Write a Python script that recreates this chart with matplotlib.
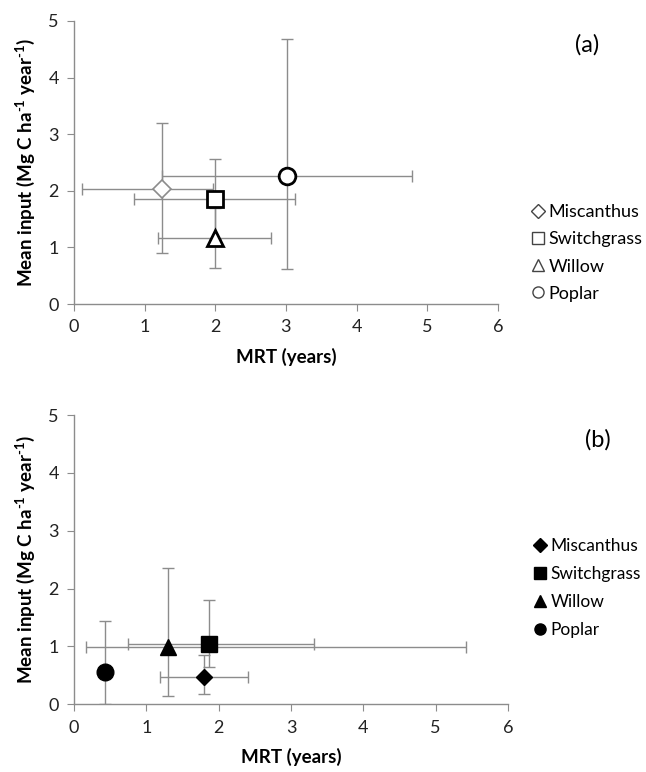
import matplotlib as mpl
mpl.use('Agg')
import matplotlib.pyplot as plt
import numpy as np

plt.rcParams['font.family'] = ['Lato', 'DejaVu Sans']
plt.rcParams['mathtext.fontset'] = 'custom'
plt.rcParams['mathtext.rm'] = 'Lato:bold'
plt.rcParams['mathtext.bf'] = 'Lato:bold'

crops = ['Miscanthus', 'Switchgrass', 'Willow', 'Poplar']

# panel (a)
a_mrt = [1.24, 1.99, 1.99, 3.02]
a_mrt_lo = [1.13, 1.14, 0.80, 1.78]
a_mrt_hi = [0.73, 1.14, 0.80, 1.76]
a_inp = [2.04, 1.86, 1.17, 2.27]
a_inp_lo = [1.14, 0.72, 0.53, 1.65]
a_inp_hi = [1.16, 0.71, 0.53, 2.42]

# panel (b)
b_mrt = [1.80, 1.86, 1.30, 0.43]
b_mrt_lo = [0.61, 1.11, 1.14, 0.0]
b_mrt_hi = [0.61, 1.46, 4.12, 0.0]
b_inp = [0.47, 1.05, 0.99, 0.56]
b_inp_lo = [0.29, 0.40, 0.85, 0.56]
b_inp_hi = [0.39, 0.75, 1.36, 0.88]

shapes = ['D', 's', '^', 'o']
a_sizes = [9, 11, 11, 12]
b_sizes = [8, 12, 12, 12]

GREY = '#8c8c8c'


def style_axes(ax, xmax):
    ax.set_xlim(0, xmax)
    ax.set_ylim(0, 5)
    ax.set_xticks(range(0, 7))
    ax.set_yticks(range(0, 6))
    for s in ['top', 'right']:
        ax.spines[s].set_visible(False)
    for s in ['left', 'bottom']:
        ax.spines[s].set_color(GREY)
        ax.spines[s].set_linewidth(1.0)
    ax.tick_params(direction='out', length=5, color=GREY, labelsize=13, pad=6, labelcolor='#222222')
    ax.set_xlabel('MRT (years)', fontsize=13.5, fontweight='bold', labelpad=9)
    ax.set_ylabel('Mean input (Mg C ha$^{\\text{-1}}$ year$^{\\text{-1}}$)',
                  fontsize=13.5, fontweight='bold', labelpad=8)


def panel(ax, mrt, mlo, mhi, inp, ilo, ihi, sizes, filled):
    for i in range(len(crops)):
        ax.errorbar(mrt[i], inp[i], xerr=[[mlo[i]], [mhi[i]]], yerr=[[ilo[i]], [ihi[i]]],
                    fmt='none', ecolor=GREY, elinewidth=1.0, capsize=4, capthick=1.0, zorder=2)
    handles = []
    for i in range(len(crops)):
        if filled:
            fc, ec, mew = 'black', 'black', 1.0
        else:
            fc = 'white'
            ec = GREY if shapes[i] == 'D' else 'black'
            mew = 1.2 if shapes[i] == 'D' else 2.0
        ax.plot(mrt[i], inp[i], linestyle='none', marker=shapes[i], markersize=sizes[i],
                markerfacecolor=fc, markeredgecolor=ec, markeredgewidth=mew, zorder=3)
        lh, = ax.plot([], [], linestyle='none', marker=shapes[i], markersize=8 if shapes[i] != 'D' else 7,
                      markerfacecolor=fc, markeredgecolor=ec if filled else '#444444',
                      markeredgewidth=1.0)
        handles.append(lh)
    return handles


fig = plt.figure(figsize=(6.46, 7.72), dpi=100)

ax1 = fig.add_axes([0.1146, 0.6062, 0.656, 0.3666])
h1 = panel(ax1, a_mrt, a_mrt_lo, a_mrt_hi, a_inp, a_inp_lo, a_inp_hi, a_sizes, False)
style_axes(ax1, 6)
ax1.legend(h1, crops, loc='upper left', bbox_to_anchor=(524 / 646, 1 - 197 / 772),
           bbox_transform=fig.transFigure, frameon=False, fontsize=13,
           handlelength=0.7, handletextpad=0.25, labelspacing=0.62, borderaxespad=0)
fig.text(587 / 646, 1 - 45 / 772, '(a)', fontsize=17, ha='center', va='center')

ax2 = fig.add_axes([0.1146, 0.0877, 0.6718, 0.3747])
h2 = panel(ax2, b_mrt, b_mrt_lo, b_mrt_hi, b_inp, b_inp_lo, b_inp_hi, b_sizes, True)
style_axes(ax2, 6)
ax2.legend(h2, crops, loc='upper left', bbox_to_anchor=(527 / 646, 1 - 531 / 772),
           bbox_transform=fig.transFigure, frameon=False, fontsize=12.5,
           handlelength=0.7, handletextpad=0.25, labelspacing=0.7, borderaxespad=0)
fig.text(598 / 646, 1 - 440 / 772, '(b)', fontsize=17, ha='center', va='center')

fig.savefig('out.png', dpi=100)
